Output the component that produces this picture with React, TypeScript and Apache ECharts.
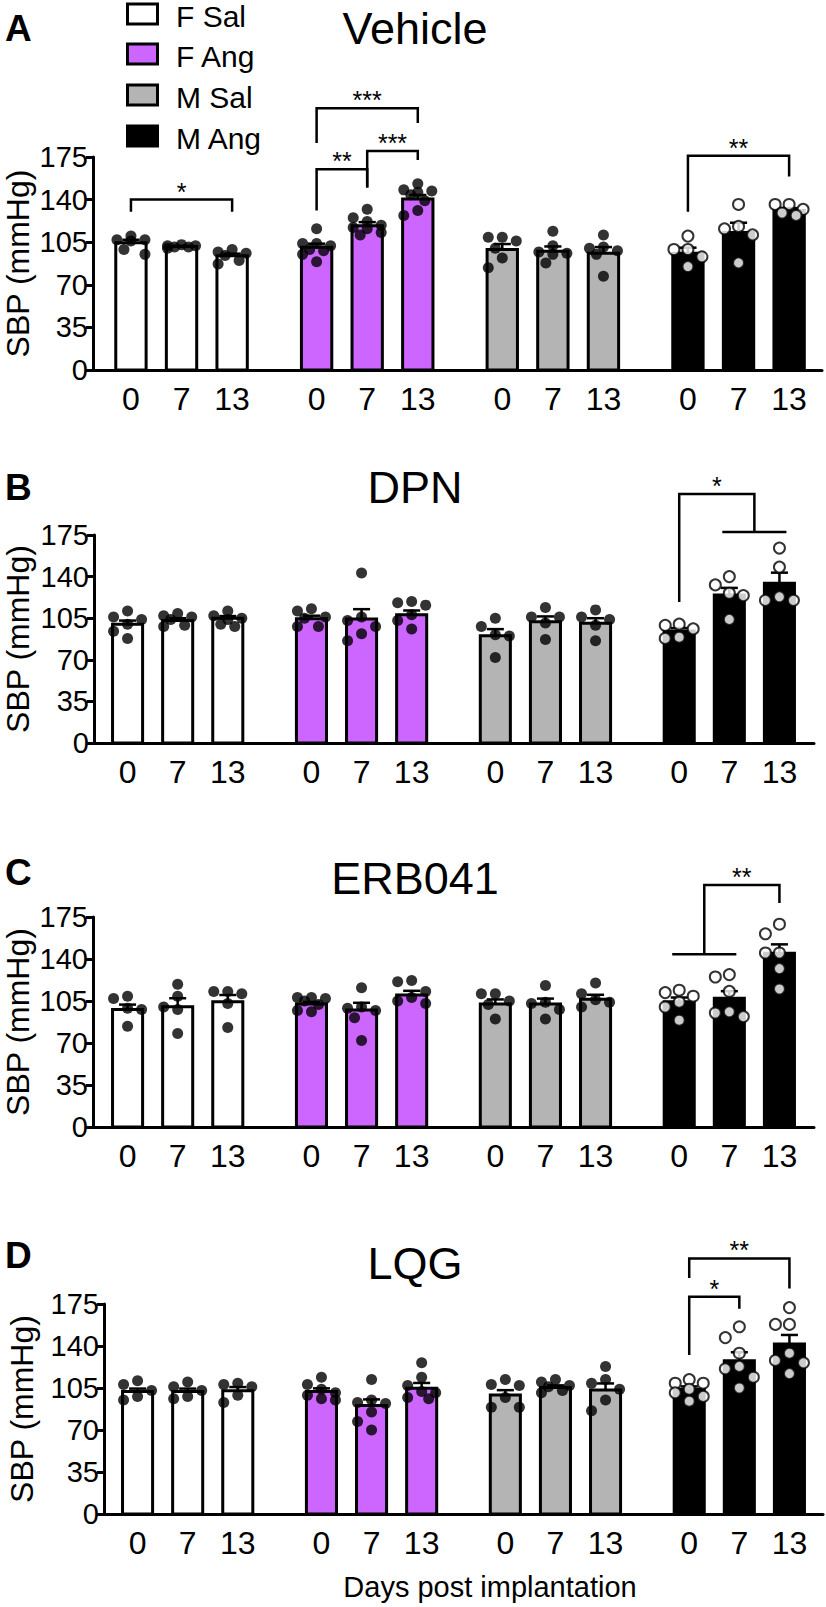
import React, { useEffect, useRef } from 'react';
import * as echarts from 'echarts';

// ---------- data ----------
const groupNames = ['F Sal', 'F Ang', 'M Sal', 'M Ang'];
const groupColors = ['#ffffff', '#cc66ff', '#b4b4b4', '#000000'];
const dayLabels = ['0', '7', '13'];
const panelLetters = ['A', 'B', 'C', 'D'];
const panelTitles = ['Vehicle', 'DPN', 'ERB041', 'LQG'];
const xAxisTitle = 'Days post implantation';
const yAxisTitle = 'SBP (mmHg)';

// bar order: F Sal 0,7,13 | F Ang 0,7,13 | M Sal 0,7,13 | M Ang 0,7,13
const vehicleMeans = [104.5, 101.5, 93.8, 100.8, 118.5, 140.5, 99, 97.5, 96, 96, 113, 131];
const vehicleSems = [2.5, 0.6, 1.8, 3, 3, 3.3, 4.5, 4, 5, 4.5, 8, 2];
const vehicleDots = [
  [110, 107, 107, 106, 99, 95],
  [103, 102, 102, 101, 101, 100],
  [99, 97, 96, 94, 90, 87],
  [116, 104, 104, 102, 99, 98, 95, 89],
  [132, 125, 122, 119, 117, 116, 113, 111],
  [153, 148, 147, 146, 144, 139, 131, 127],
  [109, 109, 106, 100, 92, 84],
  [114, 102, 97, 96, 95, 88],
  [111, 101, 100, 98, 95, 77],
  [110, 99, 99, 93, 85],
  [136, 118, 116, 111, 88],
  [136, 136, 132, 129, 127],
];

const dpnMeans = [100, 103, 105, 104.5, 104.3, 108, 90.3, 102, 100.7, 94.2, 124.5, 134.3];
const dpnSems = [3, 2, 1.8, 2.6, 8.3, 3.5, 5.5, 4.5, 4.3, 2.5, 6, 9];
const dpnDots = [
  [111, 106, 104, 100, 94, 88],
  [109, 107, 106, 104, 99, 98],
  [111, 107, 105, 104, 100, 98],
  [113, 111, 106, 105, 98, 98],
  [143, 106, 103, 98, 92, 86],
  [119, 118, 116, 108, 103, 96],
  [105, 98, 91, 90, 72],
  [114, 106, 106, 101, 87],
  [112, 106, 104, 99, 86],
  [100, 99, 96, 89, 88],
  [140, 133, 126, 124, 104],
  [164, 148, 123, 120, 120],
];

const erbMeans = [98, 100.3, 104.4, 102.5, 97.5, 110, 102.5, 102.5, 106.4, 104.4, 107.2, 144.7];
const erbSems = [4, 7, 5.6, 1.7, 6, 3.5, 3.8, 4.5, 3.8, 3.5, 6, 7.5];
const erbDots = [
  [109, 107, 99, 98, 84],
  [119, 109, 100, 98, 78],
  [113, 113, 111, 103, 83],
  [108, 108, 107, 105, 102, 97, 96],
  [116, 100, 99, 97, 91, 72],
  [122, 121, 113, 108, 105, 103],
  [111, 111, 105, 102, 90],
  [118, 104, 103, 98, 90],
  [120, 111, 106, 104, 100],
  [114, 112, 109, 104, 100, 89],
  [127, 125, 113, 96, 95, 92],
  [169, 161, 145, 145, 132, 115],
];

const lqgMeans = [102, 102, 102.8, 102, 90.5, 104.7, 99.2, 105.5, 103.3, 103.9, 127.8, 141.7];
const lqgSems = [2.5, 2.5, 3, 2.7, 5, 4.5, 4, 1.7, 5.5, 2.4, 7, 7.5];
const lqgDots = [
  [111, 108, 103, 98, 95],
  [110, 106, 103, 98, 96],
  [109, 108, 106, 99, 93],
  [114, 108, 104, 101, 99, 96, 95],
  [112, 95, 93, 92, 85, 77, 70],
  [126, 114, 107, 102, 101, 97, 96],
  [112, 108, 107, 97, 89, 89],
  [112, 110, 107, 106, 103, 101],
  [123, 112, 109, 104, 95, 86],
  [112, 109, 109, 104, 101, 98, 94],
  [156, 147, 134, 123, 121, 114, 105],
  [172, 158, 158, 134, 128, 126, 117],
];

// significance brackets: left/right = [firstBar, lastBar], top, left bottom, right bottom (mmHg)
const vehicleBrackets = [
  { left: [0, 0], right: [2, 2], top: 140, lb: 130, rb: 130, label: '*' },
  { left: [3, 3], right: [4, 4], top: 165, lb: 131, rb: 150, label: '**' },
  { left: [4, 4], right: [5, 5], top: 180, lb: 150, rb: 172.5, label: '***' },
  { left: [3, 3], right: [5, 5], top: 215, lb: 186.5, rb: 203, label: '***' },
  { left: [9, 9], right: [11, 11], top: 176, lb: 130, rb: 159, label: '**' },
];
const dpnBrackets = [{ left: [9, 9], right: [10, 11], top: 209.5, lb: 118.6, rb: 177.5, label: '*' }];
const erbBrackets = [{ left: [9, 10], right: [11, 11], top: 201.7, lb: 144, rb: 186.7, label: '**' }];
const lqgBrackets = [
  { left: [9, 9], right: [10, 10], top: 181, lb: 132.5, rb: 171, label: '*' },
  { left: [9, 9], right: [11, 11], top: 213, lb: 196.7, rb: 188, label: '**' },
];

// ---------- layout ----------
const FONT = "'Liberation Sans', Arial, Helvetica, sans-serif";
const GROUP_STEP = 3.67;
const BAR_W = 0.6;
const CAP_W = 0.34;
const layouts = [
  { left: 93, right: 4, top: 157, height: 213, xMin: -0.75, xMax: 13.66, titleY: 28, letterY: 28, nameX: 18 },
  { left: 94, right: 12, top: 535, height: 208, xMin: -0.67, xMax: 13.7, titleY: 487, letterY: 487, nameX: 18 },
  { left: 93, right: 12, top: 917, height: 210, xMin: -0.69, xMax: 13.7, titleY: 878, letterY: 872, nameX: 18 },
  { left: 104, right: 3, top: 1304, height: 210, xMin: -0.67, xMax: 13.68, titleY: 1263, letterY: 1255, nameX: 22 },
];

const barPos = (i: number) => Math.floor(i / 3) * GROUP_STEP + (i % 3);

function swarmOffsets(values: number[], pxX: number, pxY: number, d: number, step: number): number[] {
  const placed: { dx: number; v: number }[] = [];
  const order = values.map((_, i) => i).sort((a, b) => values[b] - values[a]);
  const out = new Array(values.length).fill(0);
  for (const i of order) {
    const v = values[i];
    let best = 0;
    let bestScore = Infinity;
    for (const k of [0, -2, 2, -1, 1]) {
      const dx = (k * step) / pxX;
      let overlap = 0;
      for (const p of placed) {
        const dist = Math.hypot((dx - p.dx) * pxX, (v - p.v) * pxY);
        if (dist < d) overlap += d - dist;
      }
      if (overlap === 0) {
        best = dx;
        bestScore = 0;
        break;
      }
      if (overlap < bestScore - 0.01) {
        bestScore = overlap;
        best = dx;
      }
    }
    placed.push({ dx: best, v });
    out[i] = best;
  }
  return out;
}

function buildOption() {
  const panels = [
    { means: vehicleMeans, sems: vehicleSems, dots: vehicleDots, brackets: vehicleBrackets },
    { means: dpnMeans, sems: dpnSems, dots: dpnDots, brackets: dpnBrackets },
    { means: erbMeans, sems: erbSems, dots: erbDots, brackets: erbBrackets },
    { means: lqgMeans, sems: lqgSems, dots: lqgDots, brackets: lqgBrackets },
  ];
  const grid: any[] = [];
  const xAxis: any[] = [];
  const yAxis: any[] = [];
  const series: any[] = [];
  const graphic: any[] = [];

  panels.forEach((p, pi) => {
    const L = layouts[pi];
    grid.push({ left: L.left, right: L.right, top: L.top, height: L.height, containLabel: false });
    xAxis.push({
      type: 'value', gridIndex: pi, min: L.xMin, max: L.xMax,
      axisLine: { show: true, onZero: false, lineStyle: { color: '#000', width: 3 } },
      axisTick: { show: false }, axisLabel: { show: false }, splitLine: { show: false },
    });
    yAxis.push({
      type: 'value', gridIndex: pi, min: 0, max: 175, interval: 35,
      axisLine: { show: true, onZero: false, lineStyle: { color: '#000', width: 3 } },
      axisTick: { show: true, inside: false, length: 7, lineStyle: { color: '#000', width: 3 } },
      axisLabel: { color: '#000', fontSize: 29, fontFamily: FONT, margin: 5 },
      splitLine: { show: false },
    });

    const pxX = (826 - L.left - L.right) / (L.xMax - L.xMin);
    const pxY = L.height / 175;

    // bars + error bars
    series.push({
      type: 'custom', xAxisIndex: pi, yAxisIndex: pi, z: 2,
      data: p.means.map((m, i) => [barPos(i), m, p.sems[i], Math.floor(i / 3)]),
      renderItem: (params: any, api: any) => {
        const x = api.value(0), m = api.value(1), s = api.value(2), g = api.value(3);
        const base = api.coord([x, 0]);
        const top = api.coord([x, m]);
        const et = api.coord([x, m + s]);
        const w = api.size([BAR_W, 0])[0];
        const cw = api.size([CAP_W, 0])[0];
        return {
          type: 'group',
          children: [
            { type: 'rect', shape: { x: base[0] - w / 2, y: top[1], width: w, height: base[1] - top[1] }, style: { fill: groupColors[g], stroke: '#000', lineWidth: 3 } },
            { type: 'line', shape: { x1: top[0], y1: top[1], x2: et[0], y2: et[1] }, style: { stroke: '#000', lineWidth: 2.5 } },
            { type: 'line', shape: { x1: et[0] - cw / 2, y1: et[1], x2: et[0] + cw / 2, y2: et[1] }, style: { stroke: '#000', lineWidth: 2.5 } },
          ],
        };
      },
    });

    // dots
    const dotData: any[] = [];
    p.dots.forEach((vals, i) => {
      const offs = swarmOffsets(vals, pxX, pxY, 11, 7);
      const g = Math.floor(i / 3);
      vals.forEach((v, k) => {
        dotData.push({
          value: [barPos(i) + offs[k], v],
          itemStyle: g === 3 ? { color: '#fff', borderColor: '#000', borderWidth: 2 } : { color: '#000', borderColor: '#000', borderWidth: 0 },
        });
      });
    });
    series.push({ type: 'scatter', xAxisIndex: pi, yAxisIndex: pi, z: 3, symbol: 'circle', symbolSize: 11, data: dotData });

    // x tick labels
    series.push({
      type: 'custom', xAxisIndex: pi, yAxisIndex: pi, z: 3,
      data: p.means.map((_, i) => [barPos(i), 0, i % 3]),
      renderItem: (params: any, api: any) => {
        const c = api.coord([api.value(0), 0]);
        return { type: 'text', x: c[0], y: c[1] + 29, style: { text: dayLabels[api.value(2)], fontSize: 32, fontFamily: FONT, fill: '#000', align: 'center', verticalAlign: 'middle' } };
      },
    });

    // brackets
    series.push({
      type: 'custom', xAxisIndex: pi, yAxisIndex: pi, z: 4,
      data: p.brackets.map((b, bi) => [barPos(b.left[0]), b.top, bi]),
      renderItem: (params: any, api: any) => {
        const b = p.brackets[api.value(2)];
        const ext = 0.14;
        const side = (span: number[], bottom: number) => {
          const a = barPos(span[0]);
          const z = barPos(span[1]);
          const mid = (a + z) / 2;
          const els: any[] = [];
          if (span[0] !== span[1]) {
            const p1 = api.coord([a - ext, bottom]);
            const p2 = api.coord([z + ext, bottom]);
            els.push({ type: 'line', shape: { x1: p1[0], y1: p1[1], x2: p2[0], y2: p2[1] }, style: { stroke: '#000', lineWidth: 2.5 } });
          }
          return { mid, els };
        };
        const Ls = side(b.left, b.lb);
        const Rs = side(b.right, b.rb);
        const p1 = api.coord([Ls.mid, b.lb]);
        const p2 = api.coord([Ls.mid, b.top]);
        const p3 = api.coord([Rs.mid, b.top]);
        const p4 = api.coord([Rs.mid, b.rb]);
        return {
          type: 'group',
          children: [
            ...Ls.els, ...Rs.els,
            { type: 'polyline', shape: { points: [p1, p2, p3, p4] }, style: { stroke: '#000', lineWidth: 2.5, fill: null } },
            { type: 'text', x: (p2[0] + p3[0]) / 2, y: p2[1] - 8, style: { text: b.label, fontSize: 25, fontFamily: FONT, fill: '#000', align: 'center', verticalAlign: 'middle' } },
          ],
        };
      },
    });

    // titles, letters, y name
    graphic.push({ type: 'text', x: 415, y: L.titleY, style: { text: panelTitles[pi], fontSize: 45, fontFamily: FONT, fill: '#000', align: 'center', verticalAlign: 'middle' } });
    graphic.push({ type: 'text', x: 5, y: L.letterY, style: { text: panelLetters[pi], fontSize: 37, fontWeight: 'bold', fontFamily: FONT, fill: '#000', align: 'left', verticalAlign: 'middle' } });
    graphic.push({ type: 'text', x: L.nameX, y: L.top + L.height / 2, rotation: Math.PI / 2, style: { text: yAxisTitle, fontSize: 32, fontFamily: FONT, fill: '#000', align: 'center', verticalAlign: 'middle' } });
  });

  // legend
  const legendY = [14, 54, 95, 136];
  groupNames.forEach((n, i) => {
    graphic.push({ type: 'rect', shape: { x: 127.5, y: legendY[i] - 10, width: 30, height: 20 }, style: { fill: groupColors[i], stroke: '#000', lineWidth: 3 } });
    graphic.push({ type: 'text', x: 176, y: legendY[i] + 2, style: { text: n, fontSize: 30, fontFamily: FONT, fill: '#000', align: 'left', verticalAlign: 'middle' } });
  });
  graphic.push({ type: 'text', x: 490, y: 1587, style: { text: xAxisTitle, fontSize: 29, fontFamily: FONT, fill: '#000', align: 'center', verticalAlign: 'middle' } });

  return {
    animation: false,
    backgroundColor: '#fff',
    textStyle: { fontFamily: FONT },
    grid, xAxis, yAxis, series, graphic,
  };
}

export default function App() {
  const ref = useRef<HTMLDivElement>(null);
  useEffect(() => {
    if (!ref.current) return;
    const chart = echarts.init(ref.current, undefined, { renderer: 'svg' });
    chart.setOption(buildOption() as any);
    return () => chart.dispose();
  }, []);
  return <div ref={ref} style={{ position: 'absolute', left: 0, top: 0, width: 826, height: 1607, background: '#fff' }} />;
}
